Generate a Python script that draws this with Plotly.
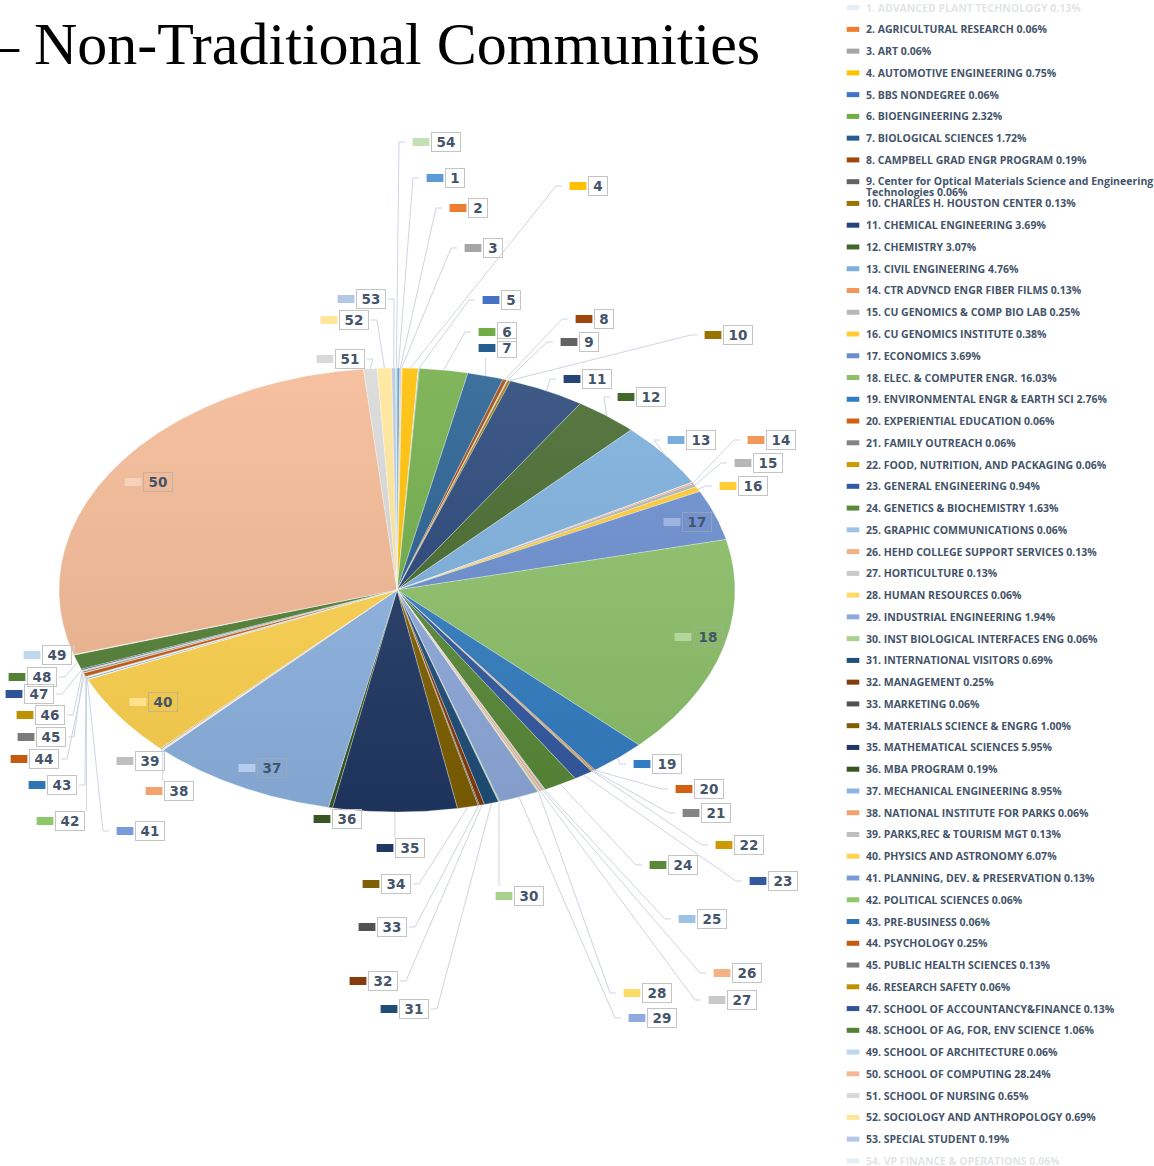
import math
import textwrap
import plotly.graph_objects as go

# ---------------- data ----------------
NUMBERS = list(range(1, 55))
NAMES = [
    "ADVANCED PLANT TECHNOLOGY", "AGRICULTURAL RESEARCH", "ART", "AUTOMOTIVE ENGINEERING",
    "BBS NONDEGREE", "BIOENGINEERING", "BIOLOGICAL SCIENCES", "CAMPBELL GRAD ENGR PROGRAM",
    "Center for Optical Materials Science and Engineering Technologies",
    "CHARLES H. HOUSTON CENTER", "CHEMICAL ENGINEERING", "CHEMISTRY", "CIVIL ENGINEERING",
    "CTR ADVNCD ENGR FIBER FILMS", "CU GENOMICS & COMP BIO LAB", "CU GENOMICS INSTITUTE",
    "ECONOMICS", "ELEC. & COMPUTER ENGR.", "ENVIRONMENTAL ENGR & EARTH SCI",
    "EXPERIENTIAL EDUCATION", "FAMILY OUTREACH", "FOOD, NUTRITION, AND PACKAGING",
    "GENERAL ENGINEERING", "GENETICS & BIOCHEMISTRY", "GRAPHIC COMMUNICATIONS",
    "HEHD COLLEGE SUPPORT SERVICES", "HORTICULTURE", "HUMAN RESOURCES",
    "INDUSTRIAL ENGINEERING", "INST BIOLOGICAL INTERFACES ENG", "INTERNATIONAL VISITORS",
    "MANAGEMENT", "MARKETING", "MATERIALS SCIENCE & ENGRG", "MATHEMATICAL SCIENCES",
    "MBA PROGRAM", "MECHANICAL ENGINEERING", "NATIONAL INSTITUTE FOR PARKS",
    "PARKS,REC & TOURISM MGT", "PHYSICS AND ASTRONOMY", "PLANNING, DEV. & PRESERVATION",
    "POLITICAL SCIENCES", "PRE-BUSINESS", "PSYCHOLOGY", "PUBLIC HEALTH SCIENCES",
    "RESEARCH SAFETY", "SCHOOL OF ACCOUNTANCY&FINANCE", "SCHOOL OF AG, FOR, ENV SCIENCE",
    "SCHOOL OF ARCHITECTURE", "SCHOOL OF COMPUTING", "SCHOOL OF NURSING",
    "SOCIOLOGY AND ANTHROPOLOGY", "SPECIAL STUDENT", "VP FINANCE & OPERATIONS",
]
PCTS = [
    0.13, 0.06, 0.06, 0.75, 0.06, 2.32, 1.72, 0.19, 0.06, 0.13,
    3.69, 3.07, 4.76, 0.13, 0.25, 0.38, 3.69, 16.03, 2.76, 0.06,
    0.06, 0.06, 0.94, 1.63, 0.06, 0.13, 0.13, 0.06, 1.94, 0.06,
    0.69, 0.25, 0.06, 1.00, 5.95, 0.19, 8.95, 0.06, 0.13, 6.07,
    0.13, 0.06, 0.06, 0.25, 0.13, 0.06, 0.13, 1.06, 0.06, 28.24,
    0.65, 0.69, 0.19, 0.06,
]
TITLE = "– Non-Traditional Communities"

# ---------------- styles / layout ----------------
COLORS = [
    "#5B9BD5", "#ED7D31", "#A5A5A5", "#FFC000", "#4472C4", "#70AD47",
    "#255E91", "#9E480E", "#636363", "#997300", "#264478", "#43682B",
    "#7CAFDD", "#F1975A", "#B7B7B7", "#FFCD33", "#698ED0", "#8CC168",
    "#327DC2", "#D26012", "#848484", "#CC9A00", "#335AA1", "#5A8A39",
    "#9DC3E6", "#F4B183", "#C9C9C9", "#FFD966", "#8FAADC", "#A9D18E",
    "#1F4E79", "#843C0C", "#525252", "#7F6000", "#203864", "#375623",
    "#8DB4E2", "#F3A26E", "#BFBFBF", "#FFD34F", "#7A9BD9", "#8FC86B",
    "#2E75B6", "#C55A11", "#7B7B7B", "#BF9000", "#2F5597", "#538135",
    "#BDD7EE", "#F4B994", "#D9D9D9", "#FFE699", "#B4C7E7", "#C5E0B4",
]
# data-label placement (left edge of number box, vertical centre), in page pixels
LABEL_POS = [
    (445, 178), (468, 208), (483, 248), (588, 186), (501, 300), (497, 332),
    (497, 348), (594, 319), (579, 342), (723, 335), (582, 379), (636, 397),
    (686, 440), (766, 440), (753, 463), (738, 486), (682, 522), (693, 637),
    (652, 764), (694, 789), (701, 813), (734, 845), (768, 881), (668, 865),
    (697, 919), (732, 973), (727, 1000), (642, 993), (647, 1018), (514, 896),
    (399, 1009), (368, 981), (377, 927), (381, 884), (395, 848), (332, 819),
    (257, 768), (164, 791), (135, 761), (148, 702), (135, 831), (55, 821),
    (47, 785), (29, 759), (36, 737), (35, 715), (24, 694), (27, 677),
    (42, 655), (143, 482), (335, 359), (339, 320), (356, 299), (431, 142),
]

W, H = 1154, 1166
CX, CY, RX, RY = 397, 590, 338, 222
TEXT_COLOR = "#44546A"
LEADER_COLOR = "#CDD5E1"


def shade(hexc, f):
    r, g, b = int(hexc[1:3], 16), int(hexc[3:5], 16), int(hexc[5:7], 16)
    if f >= 0:
        r, g, b = [int(c + (255 - c) * f) for c in (r, g, b)]
    else:
        r, g, b = [int(c * (1 + f)) for c in (r, g, b)]
    return "#%02X%02X%02X" % (r, g, b)


fig = go.Figure()

total = sum(PCTS)
cum = 0.0
anchors = []
for num, name, v, col in zip(NUMBERS, NAMES, PCTS, COLORS):
    a0 = 2 * math.pi * cum / total
    a1 = 2 * math.pi * (cum + v) / total
    n = max(2, int((a1 - a0) / 0.004) + 1)
    xs, ys = [CX], [CY]
    for k in range(n + 1):
        a = a0 + (a1 - a0) * k / n
        xs.append(CX + RX * math.sin(a))
        ys.append(CY - RY * math.cos(a))
    xs.append(CX)
    ys.append(CY)
    fig.add_trace(go.Scatter(
        x=xs, y=ys, mode="lines", fill="toself",
        fillgradient=dict(type="vertical", start=CY - RY, stop=CY + RY,
                          colorscale=[[0, shade(col, 0.12)], [1, shade(col, -0.08)]]),
        line=dict(color="rgba(255,255,255,0.55)", width=0.5),
        name=f"{num}. {name}", hoverinfo="name", showlegend=False,
    ))
    am = (a0 + a1) / 2
    anchors.append((CX + RX * math.sin(am), CY - RY * math.cos(am)))
    cum += v

# leader lines
lx, ly = [], []
inside_flags = []
for num, (bx, by), (ax, ay) in zip(NUMBERS, LABEL_POS, anchors):
    w = 20 if num < 10 else 30
    inside = ((bx + w / 2 - CX) / RX) ** 2 + ((by - CY) / RY) ** 2 < 1
    inside_flags.append(inside)
    if inside:
        continue
    gl, gr = bx - 16, bx + w
    if gl - 2 <= ax <= gr + 2:
        ey = by - 10 if ay < by else by + 10
        lx += [ax, ax, None]
        ly += [ay, ey, None]
    elif ax < gl:
        ex = gl - 10
        lx += [ax, ex - 6, ex, None]
        ly += [ay, by, by, None]
    else:
        ex = gr + 2
        lx += [ax, ex + 6, ex, None]
        ly += [ay, by, by, None]
fig.add_trace(go.Scatter(x=lx, y=ly, mode="lines", line=dict(color=LEADER_COLOR, width=1),
                         hoverinfo="skip", showlegend=False))

# label keys
kx = [bx - 10 for bx, _ in LABEL_POS]
ky = [by for _, by in LABEL_POS]
kcol = [shade(c, 0.35) if ins else c for c, ins in zip(COLORS, inside_flags)]
fig.add_trace(go.Scatter(
    x=kx, y=ky, mode="markers", hoverinfo="skip", showlegend=False,
    marker=dict(symbol="line-ew", size=12, color=kcol, line=dict(color=kcol, width=8)),
))

annotations = []
for num, (bx, by), ins in zip(NUMBERS, LABEL_POS, inside_flags):
    w = 20 if num < 10 else 30
    annotations.append(dict(
        x=bx, y=by, xref="x", yref="y", xanchor="left", yanchor="middle",
        text=f"<b>{num}</b>", showarrow=False, width=w - 2, height=18, align="center",
        bordercolor="rgba(170,170,170,0.6)" if ins else "#C4C4C4", borderwidth=1, borderpad=0,
        font=dict(family="DejaVu Sans", size=13.5, color=TEXT_COLOR),
    ))

# legend (right column)
LEG_Y0, LEG_DY, LEG_LINE = 7.6, 21.76, 11
legx, legy = [], []
for i, (num, name, v, col) in enumerate(zip(NUMBERS, NAMES, PCTS, COLORS)):
    y = LEG_Y0 + i * LEG_DY
    legx.append(853)
    legy.append(y)
    txt = f"{num}. {name} {v:.2f}%"
    lines = textwrap.wrap(txt, 56)
    faded = (i == 0 or i == len(NUMBERS) - 1)
    for j, line in enumerate(lines):
        annotations.append(dict(
            x=864, y=y + j * LEG_LINE - (0.5 if len(lines) > 1 else 0), xref="x", yref="y",
            xanchor="left", yanchor="middle",
            text=line, showarrow=False, align="left",
            font=dict(family="Open Sans", size=10.5, weight=700,
                      color="rgba(68,84,106,0.18)" if faded else TEXT_COLOR),
        ))
legcol = [("rgba(180,200,220,0.3)" if (i == 0 or i == len(COLORS) - 1) else c)
          for i, c in enumerate(COLORS)]
fig.add_trace(go.Scatter(
    x=legx, y=legy, mode="markers", hoverinfo="skip", showlegend=False,
    marker=dict(symbol="line-ew", size=9, color=legcol, line=dict(color=legcol, width=5)),
))

# title
annotations.append(dict(
    x=762, y=44, xref="x", yref="y", xanchor="right", yanchor="middle",
    text=TITLE, showarrow=False,
    font=dict(family="Liberation Serif", size=60, color="#000000"),
))

fig.update_layout(
    width=W, height=H, margin=dict(l=0, r=0, t=0, b=0),
    paper_bgcolor="white", plot_bgcolor="white", showlegend=False,
    xaxis=dict(range=[0, W], visible=False, fixedrange=True, domain=[0, 1]),
    yaxis=dict(range=[H, 0], visible=False, fixedrange=True, domain=[0, 1]),
    annotations=annotations,
)

fig.write_html("out.html")
